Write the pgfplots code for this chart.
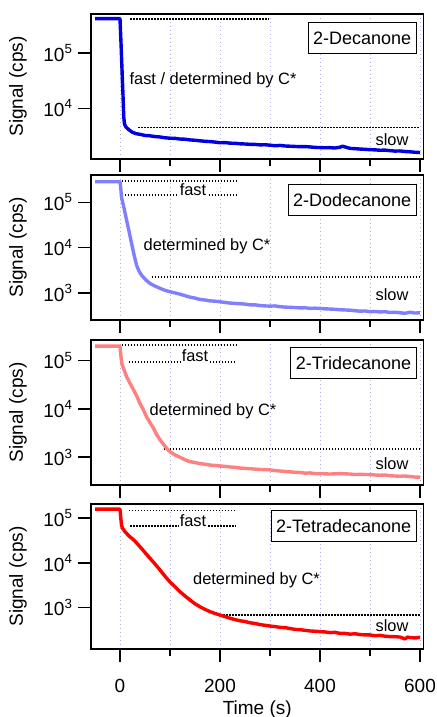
\documentclass[border=0pt]{standalone}
\usepackage{fontspec}
\setmainfont{Liberation Sans}
\usepackage{pgfplots}
\pgfplotsset{compat=1.18}

\definecolor{c1}{RGB}{0,0,225}
\definecolor{c2}{RGB}{128,128,255}
\definecolor{c3}{RGB}{255,128,128}
\definecolor{c4}{RGB}{255,0,0}
\definecolor{gridc}{RGB}{175,175,220}

\pgfplotsset{
  sigpanel/.style={
    scale only axis, width=166.25pt, height=72.5pt,
    xmin=-58, xmax=607,
    xtick={0,200,400,600}, minor xtick={100,300,500},
    tick align=outside, xtick pos=left, ytick pos=left,
    major tick length=6.5pt, minor tick length=3.5pt,
    yminorticks=false,
    xmajorgrids, xminorgrids,
    major grid style={gridc, line width=0.45pt, dash pattern=on 0.6pt off 1.4pt},
    minor grid style={gridc, line width=0.45pt, dash pattern=on 0.6pt off 1.4pt},
    axis line style={line width=0.8pt},
    every tick/.style={black, line width=0.8pt},
    tick label style={font=\fontsize{9.5}{11}\selectfont},
    yticklabel style={xshift=1pt},
    xticklabel style={yshift=-5pt},
    /pgf/number format/assume math mode=true,
    every axis y label/.style={at={(axis description cs:-0.22,0.5)}, rotate=90, anchor=center,
      font=\fontsize{9.5}{11}\selectfont},
    every axis x label/.style={at={(axis description cs:0.5,-0.415)}, anchor=center,
      font=\fontsize{9.5}{11}\selectfont},
    ylabel={Signal (cps)},
  },
}
\tikzset{
  sigline/.style={line width=1.7pt, line join=round},
  guide/.style={black, line width=0.8pt, dash pattern=on 0.75pt off 0.75pt},
  ann/.style={font=\fontsize{8.2}{9.5}\selectfont, inner sep=0.5pt},
  lab/.style={draw, fill=white, line width=0.6pt, anchor=north east, inner xsep=2.5pt,
    minimum height=15.5pt, font=\fontsize{9}{10.8}\selectfont},
}

\begin{document}
\begin{tikzpicture}
\path[use as bounding box] (0,0) rectangle (218pt,-358.5pt);

% 2-Decanone
\begin{axis}[ymode=log, sigpanel, at={(45.5pt,-7pt)}, anchor=north west,
  ymin=1225, ymax=4.97e5, ytick={1e4,1e5},
  yticklabels={10\textsuperscript{4},10\textsuperscript{5}}, xticklabel=\empty]
\addplot[guide] coordinates {(20,4e5) (298,4e5)};
\addplot[guide] coordinates {(36,4.5e3) (598,4.5e3)};
\addplot[sigline, c1] coordinates {
(-50,4.1e5) (0,4.1e5) (2,1.5e5) (4,5e4) (6,1.7e4) (7.5,7e3) (9,5.2e3) (12,4.6e3)
(18,4.1e3) (25,3.7e3) (32,3.5e3) (40,3.4e3) (50,3.25e3) (60,3.2e3) (70,3.1e3)
(80,3.05e3) (90,2.95e3) (100,2.9e3) (110,2.88e3) (120,2.8e3) (130,2.78e3)
(140,2.7e3) (150,2.66e3) (160,2.6e3) (170,2.55e3) (180,2.52e3) (190,2.47e3)
(200,2.4e3) (210,2.42e3) (220,2.36e3) (230,2.35e3) (240,2.3e3) (250,2.28e3)
(260,2.25e3) (270,2.24e3) (280,2.2e3) (290,2.21e3) (300,2.17e3) (310,2.12e3)
(320,2.15e3) (330,2.1e3) (340,2.08e3) (350,2.06e3) (360,2.04e3) (370,2.05e3)
(380,2.02e3) (390,1.98e3) (400,1.97e3) (410,1.95e3) (420,1.96e3) (430,1.93e3)
(440,2.0e3) (445,2.08e3) (450,2.02e3) (460,1.9e3) (470,1.88e3) (480,1.85e3)
(490,1.83e3) (500,1.8e3) (510,1.79e3) (520,1.76e3) (530,1.77e3) (540,1.73e3)
(550,1.7e3) (560,1.71e3) (570,1.67e3) (580,1.65e3) (590,1.62e3) (600,1.6e3)
};
\node[ann] at (axis cs:186,3.2e4) {fast / determined by C*};
\node[ann] at (axis cs:544,2.7e3) {slow};
\node[lab] at (rel axis cs:0.98,0.945) {2-Decanone};
\end{axis}

% 2-Dodecanone
\begin{axis}[ymode=log, sigpanel, at={(45.5pt,-87.5pt)}, anchor=north west,
  ymin=249, ymax=4.02e5, ytick={1e3,1e4,1e5},
  yticklabels={10\textsuperscript{3},10\textsuperscript{4},10\textsuperscript{5}}, xticklabel=\empty]
\addplot[guide] coordinates {(3,3e5) (232,3e5)};
\addplot[guide] coordinates {(3,1.45e5) (232,1.45e5)};
\addplot[guide] coordinates {(63,2.2e3) (600,2.2e3)};
\addplot[sigline, c2] coordinates {
(-50,2.85e5) (0,2.85e5) (2,1.8e5) (3,1.3e5) (8,7.5e4) (13,4.1e4) (18,2.3e4)
(23,1.25e4) (28,7e3) (33,4.1e3) (38,3e3) (43,2.45e3) (50,2e3) (60,1.6e3)
(70,1.4e3) (80,1.25e3) (90,1.13e3) (100,1.05e3) (110,9.9e2) (120,9.3e2)
(130,8.6e2) (140,8.0e2) (150,7.6e2) (160,7.1e2) (170,6.9e2) (180,6.6e2)
(190,6.5e2) (200,6.3e2) (210,6.1e2) (220,5.9e2) (230,5.8e2) (240,5.7e2)
(250,5.6e2) (260,5.4e2) (270,5.4e2) (280,5.2e2) (290,5.1e2) (300,5.05e2)
(310,5.1e2) (320,4.9e2) (330,4.8e2) (340,4.75e2) (350,4.7e2) (360,4.6e2)
(370,4.65e2) (380,4.5e2) (390,4.55e2) (400,4.5e2) (410,4.4e2) (420,4.35e2)
(430,4.3e2) (440,4.2e2) (450,4.15e2) (460,4.1e2) (470,4.0e2) (480,3.9e2)
(490,3.95e2) (500,3.8e2) (510,3.85e2) (520,3.75e2) (530,3.8e2) (540,3.65e2)
(550,3.7e2) (560,3.6e2) (570,3.5e2) (580,3.7e2) (590,3.55e2) (600,3.6e2)
};
\node[ann, fill=white, anchor=base] at (axis cs:146,1.45e5) {fast};
\node[ann] at (axis cs:174,1.07e4) {determined by C*};
\node[ann] at (axis cs:544,890) {slow};
\node[lab] at (rel axis cs:0.98,0.938) {2-Dodecanone};
\end{axis}

% 2-Tridecanone
\begin{axis}[ymode=log, sigpanel, at={(45.5pt,-170pt)}, anchor=north west,
  ymin=267, ymax=2.68e5, ytick={1e3,1e4,1e5},
  yticklabels={10\textsuperscript{3},10\textsuperscript{4},10\textsuperscript{5}}, xticklabel=\empty]
\addplot[guide] coordinates {(3,2.1e5) (232,2.1e5)};
\addplot[guide] coordinates {(17,9.4e4) (229,9.4e4)};
\addplot[guide] coordinates {(87,1.5e3) (602,1.5e3)};
\addplot[sigline, c3] coordinates {
(-50,2.0e5) (0,2.0e5) (2,1.2e5) (4,8.5e4) (8,6.5e4) (13,4.7e4) (20,3.4e4)
(27,2.5e4) (34,1.8e4) (40,1.3e4) (47,9.5e3) (53,6.9e3) (60,5.2e3) (67,4e3)
(73,3e3) (80,2.3e3) (87,1.85e3) (93,1.55e3) (100,1.3e3) (110,1.12e3) (120,1e3)
(130,8.9e2) (140,8.1e2) (150,7.8e2) (160,7.4e2) (170,7.2e2) (180,6.9e2)
(190,6.8e2) (200,6.6e2) (210,6.5e2) (220,6.3e2) (230,6.2e2) (240,6.0e2)
(250,5.9e2) (260,5.8e2) (270,5.7e2) (280,5.6e2) (290,5.55e2) (300,5.5e2)
(310,5.3e2) (320,5.2e2) (330,5.1e2) (340,5.0e2) (350,4.9e2) (360,4.85e2)
(370,4.7e2) (380,4.75e2) (390,4.6e2) (400,4.6e2) (410,4.55e2) (420,4.5e2)
(430,4.55e2) (440,4.6e2) (450,4.55e2) (460,4.5e2) (470,4.4e2) (480,4.45e2)
(490,4.4e2) (500,4.4e2) (510,4.3e2) (520,4.25e2) (530,4.3e2) (540,4.15e2)
(550,4.1e2) (560,4.05e2) (570,4.1e2) (580,4.0e2) (590,3.9e2) (600,3.9e2)
};
\node[ann, fill=white, anchor=base] at (axis cs:150,9.4e4) {fast};
\node[ann] at (axis cs:186,8.8e3) {determined by C*};
\node[ann] at (axis cs:544,727) {slow};
\node[lab] at (rel axis cs:0.98,0.954) {2-Tridecanone};
\end{axis}

% 2-Tetradecanone
\begin{axis}[ymode=log, sigpanel, at={(45.5pt,-252pt)}, anchor=north west,
  ymin=116, ymax=2.09e5, ytick={1e3,1e4,1e5},
  yticklabels={10\textsuperscript{3},10\textsuperscript{4},10\textsuperscript{5}},
  xticklabels={0,200,400,600},
  xlabel={Time (s)}]
\addplot[guide] coordinates {(17,1.5e5) (232,1.5e5)};
\addplot[guide] coordinates {(20,6.7e4) (232,6.7e4)};
\addplot[guide] coordinates {(200,670) (602,670)};
\addplot[sigline, c4] coordinates {
(-50,1.6e5) (0,1.6e5) (1,1.2e5) (3,7e4) (5,6e4) (10,5e4) (18,4e4) (27,3.3e4)
(35,2.65e4) (43,2.1e4) (52,1.6e4) (60,1.26e4) (70,9.4e3) (80,6.9e3) (90,5e3)
(100,3.7e3) (110,2.9e3) (120,2.24e3) (130,1.8e3) (140,1.46e3) (150,1.2e3)
(160,1.03e3) (170,9e2) (180,8e2) (190,7.3e2) (200,6.7e2) (210,6.2e2)
(220,5.7e2) (230,5.3e2) (240,5e2) (250,4.8e2) (260,4.5e2) (270,4.35e2)
(280,4.1e2) (290,3.95e2) (300,3.8e2) (310,3.7e2) (320,3.55e2) (330,3.5e2)
(340,3.35e2) (350,3.2e2) (360,3.15e2) (370,3.05e2) (380,2.95e2) (390,2.9e2)
(400,2.85e2) (410,2.8e2) (420,2.7e2) (430,2.75e2) (440,2.6e2) (450,2.6e2)
(460,2.5e2) (470,2.55e2) (480,2.45e2) (490,2.4e2) (500,2.4e2) (510,2.3e2)
(520,2.35e2) (530,2.25e2) (540,2.2e2) (550,2.2e2) (560,2.15e2) (570,1.95e2)
(575,2.15e2) (580,2.1e2) (590,2.05e2) (600,2.12e2)
};
\node[ann, fill=white, anchor=base] at (axis cs:146,6.7e4) {fast};
\node[ann] at (axis cs:273,4.1e3) {determined by C*};
\node[ann] at (axis cs:544,380) {slow};
\node[lab] at (rel axis cs:0.98,0.959) {2-Tetradecanone};
\end{axis}
\end{tikzpicture}
\end{document}
